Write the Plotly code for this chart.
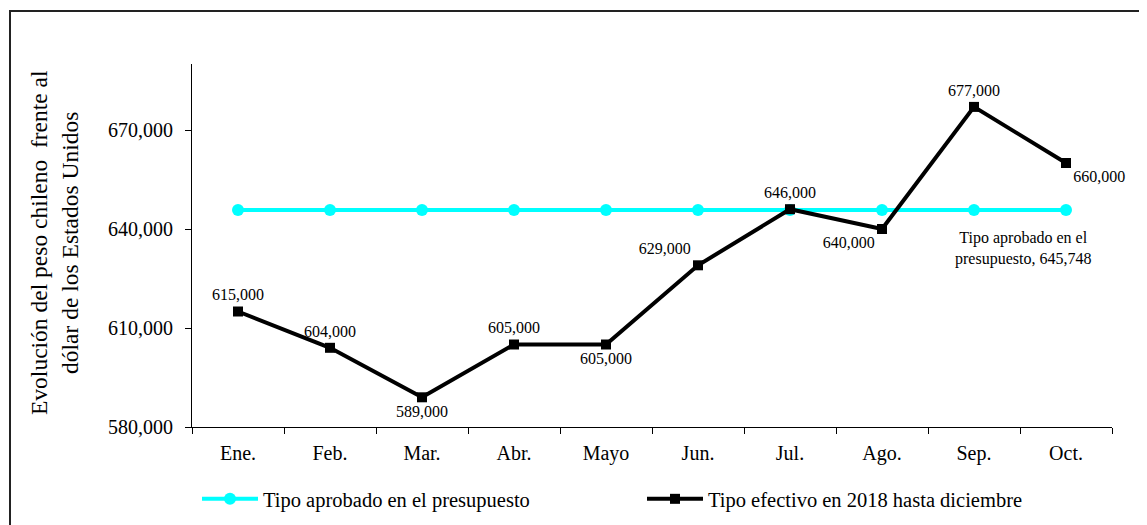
import plotly.graph_objects as go

months = ["Ene.", "Feb.", "Mar.", "Abr.", "Mayo", "Jun.", "Jul.", "Ago.", "Sep.", "Oct."]
budget = [645748] * 10
actual = [615000, 604000, 589000, 605000, 605000, 629000, 646000, 640000, 677000, 660000]
label_pos = ["top center", "top center", "bottom center", "top center", "bottom center",
             "top left", "top center", "bottom left", "top center", "bottom right"]
y_ticks = [580000, 610000, 640000, 670000]
y_ticktext = ["580,000", "610,000", "640,000", "670,000"]

FONT = "Liberation Serif, Times New Roman, serif"
# the page adds an 8px body margin, so the figure is 8px smaller and
# reference window coordinates are shifted by 8px
OFF = 8
W, H = 1147 - OFF, 525 - OFF
L, R, T, B = 192 - OFF, 35, 64 - OFF, 98
pw, ph = W - L - R, H - T - B

def px(x):  # reference window x -> paper
    return (x - OFF - L) / pw

def py(y):  # reference window y -> paper
    return (H - B - (y - OFF)) / ph

fig = go.Figure()
fig.add_trace(go.Scatter(
    x=months, y=budget, name="Tipo aprobado en el presupuesto",
    mode="lines+markers", line=dict(color="#00FFFF", width=4),
    marker=dict(symbol="circle", size=12, color="#00FFFF"),
    legend="legend", cliponaxis=False,
))
fig.add_trace(go.Scatter(
    x=months, y=actual, name="Tipo efectivo en 2018 hasta diciembre",
    mode="lines+markers+text", line=dict(color="#000000", width=4),
    marker=dict(symbol="square", size=10, color="#000000"),
    text=[f"{v:,.0f}" for v in actual], textposition=label_pos,
    textfont=dict(family=FONT, size=16, color="#000000"),
    legend="legend2", cliponaxis=False,
))

fig.add_annotation(
    x=px(1023), y=py(248), xref="paper", yref="paper",
    xanchor="center", yanchor="middle",
    text="Tipo aprobado en el<br>presupuesto, 645,748", showarrow=False,
    font=dict(family=FONT, size=16, color="#000000"), align="center",
)

fig.add_annotation(
    x=px(54), y=py(243), xref="paper", yref="paper", textangle=-90,
    xanchor="center", yanchor="middle",
    text="Evolución del peso chileno  frente al<br>dólar de los Estados Unidos",
    showarrow=False, font=dict(family=FONT, size=23.5, color="#000000"), align="center",
)

fig.add_shape(type="rect", xref="paper", yref="paper",
              x0=px(10), x1=px(1170), y0=py(560), y1=py(11),
              line=dict(color="#222222", width=2), fillcolor="rgba(0,0,0,0)")

legend_common = dict(orientation="h", xanchor="left", yanchor="top",
                     font=dict(family=FONT, size=20.5, color="#000000"),
                     itemwidth=56, bgcolor="rgba(0,0,0,0)")

fig.update_layout(
    width=W, height=H,
    margin=dict(l=L, r=R, t=T, b=B, autoexpand=False),
    paper_bgcolor="white", plot_bgcolor="white",
    font=dict(family=FONT, color="#000000", size=16),
    showlegend=True,
    legend=dict(x=px(197), y=py(479), **legend_common),
    legend2=dict(x=px(642), y=py(479), **legend_common),
)
fig.update_xaxes(
    showline=True, linecolor="#000000", linewidth=1,
    ticks="outside", tickson="boundaries", ticklen=6, tickcolor="#000000",
    ticklabelstandoff=8,
    showgrid=False, tickfont=dict(family=FONT, size=20, color="#000000"),
    range=[-0.5, 9.5],
)
fig.update_yaxes(
    range=[580000, 690000], tickvals=y_ticks, ticktext=y_ticktext,
    showline=True, linecolor="#000000", linewidth=1,
    ticks="outside", ticklen=6, tickcolor="#000000",
    ticklabelstandoff=8,
    showgrid=False, zeroline=False,
    tickfont=dict(family=FONT, size=20, color="#000000"),
)

fig.write_html("out.html")
